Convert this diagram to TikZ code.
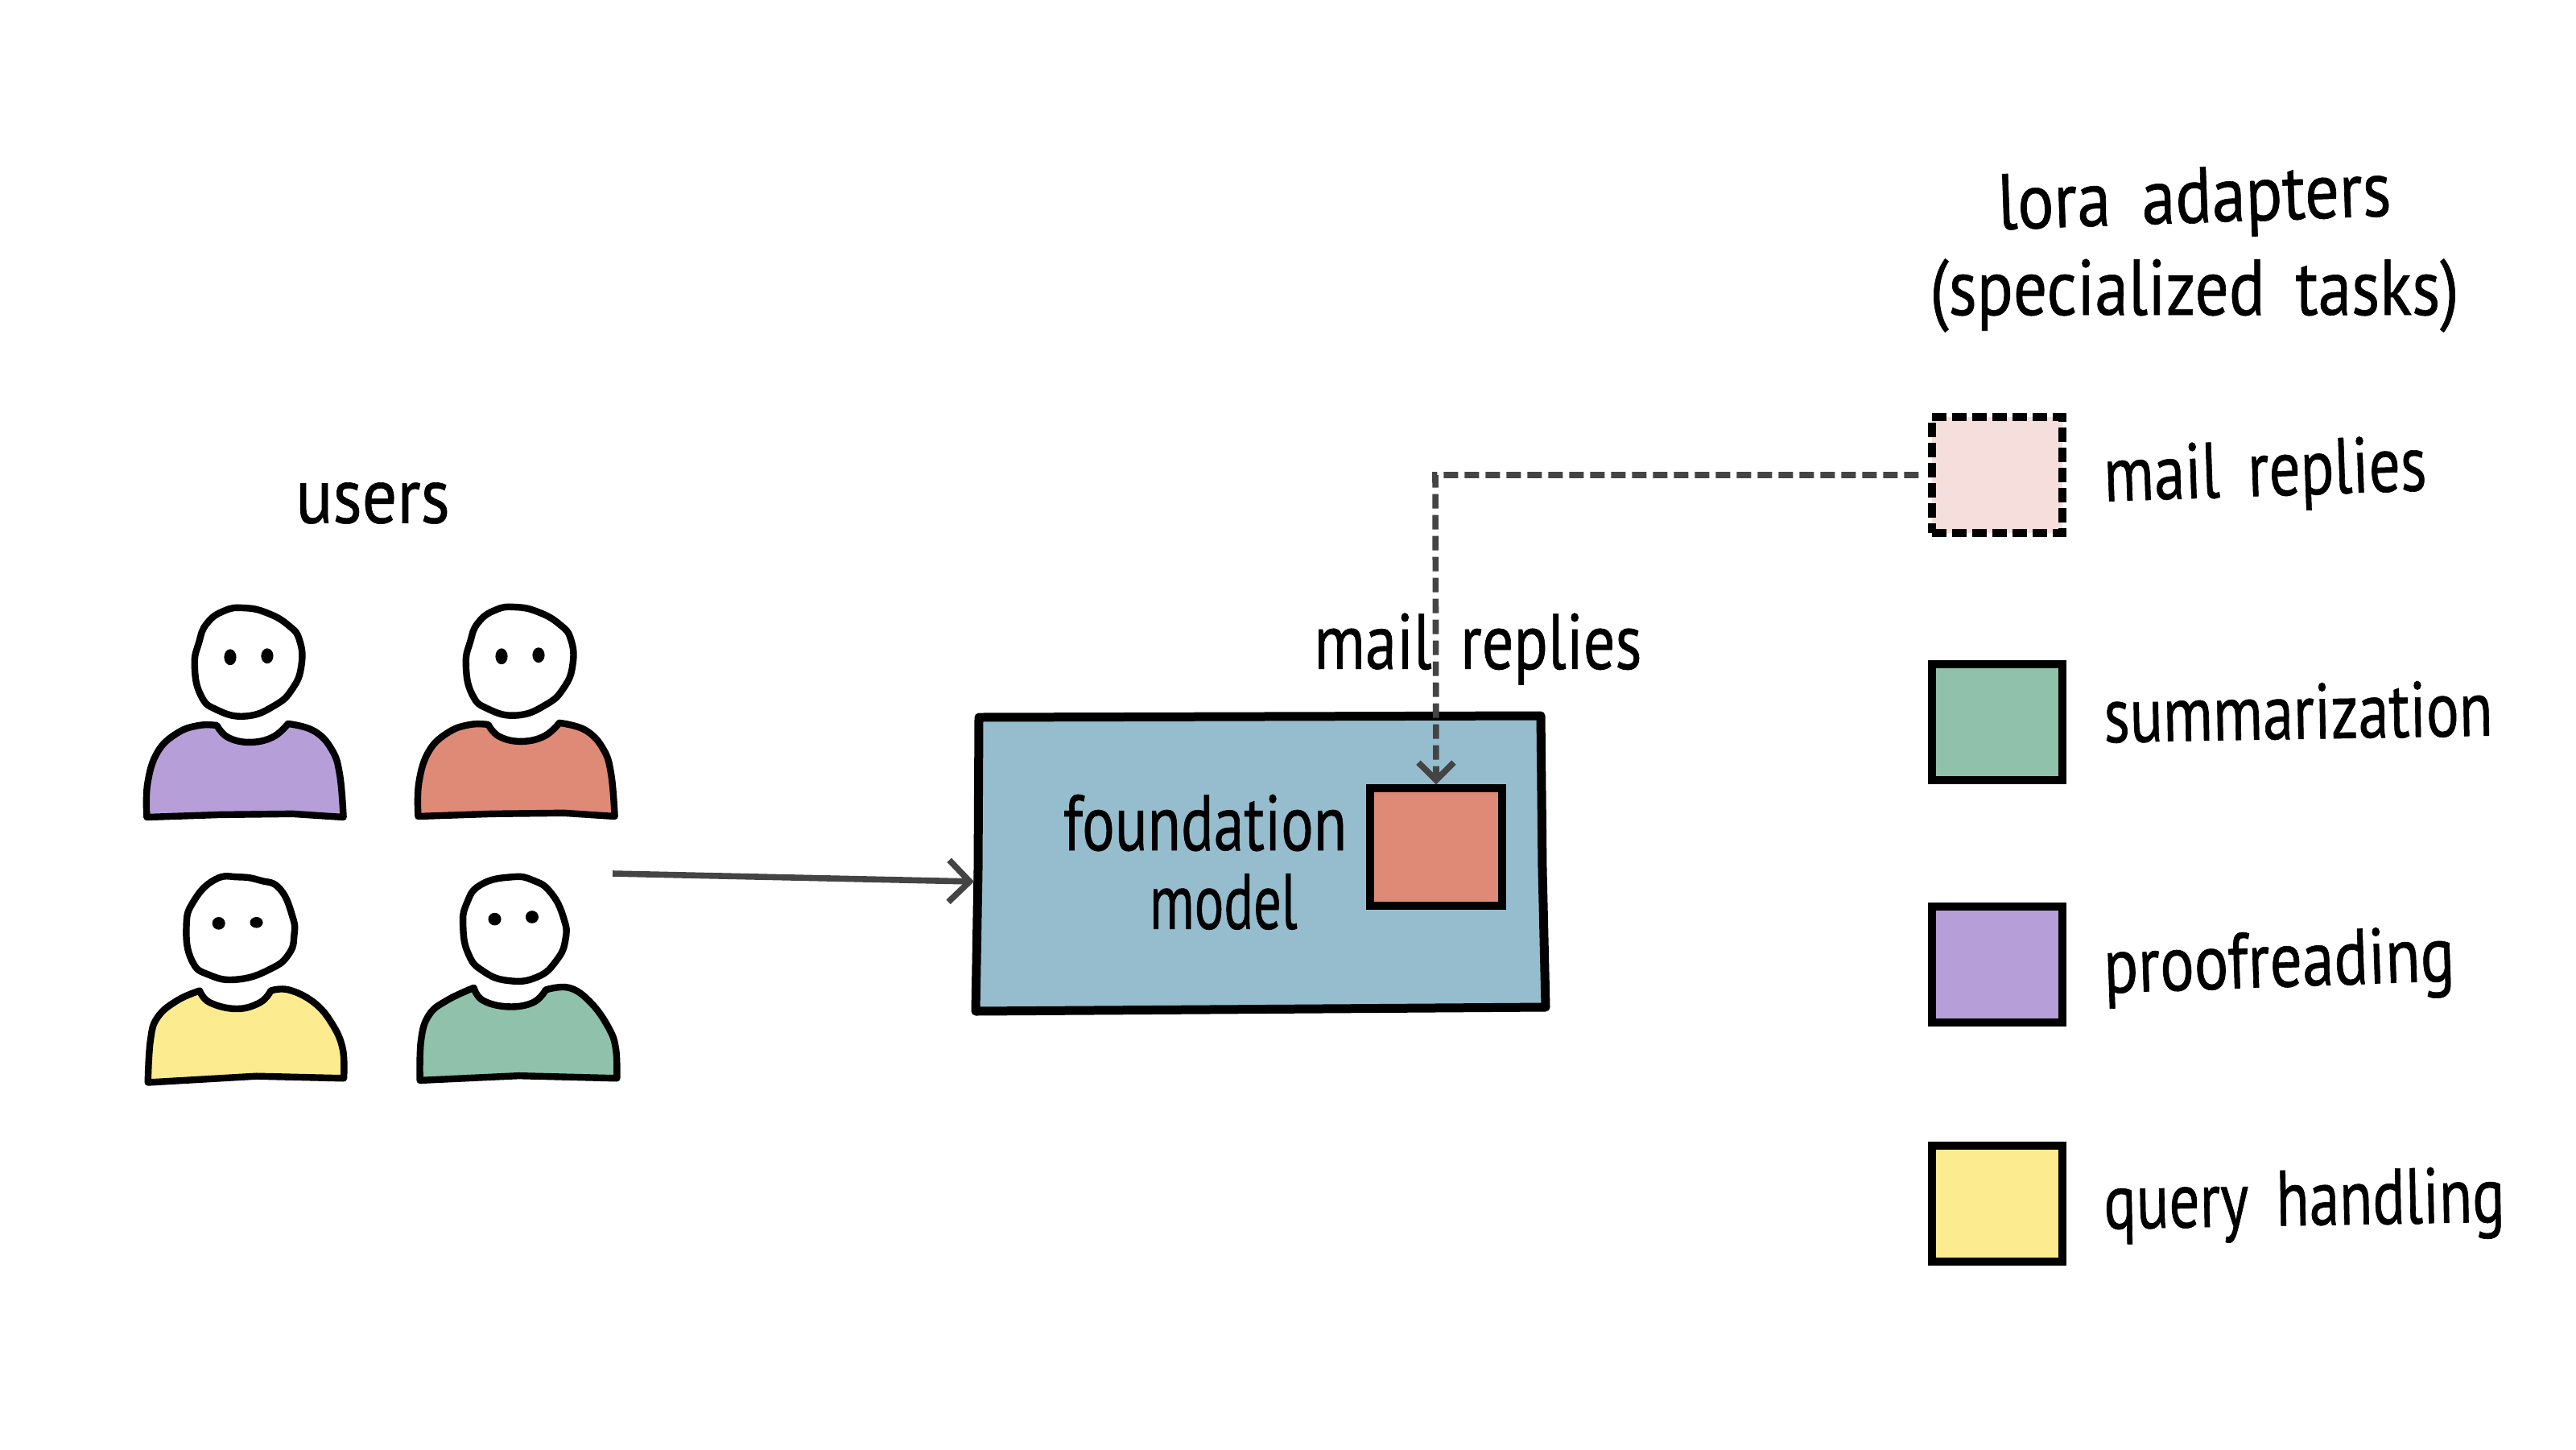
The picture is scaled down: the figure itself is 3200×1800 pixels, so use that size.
\documentclass[tikz,border=0pt]{standalone}
\usepackage{fontspec}
\usepackage{graphicx}
\usetikzlibrary{arrows.meta}
\newfontfamily\handfont[FakeStretch=0.75,WordSpace=1.7,FakeBold=0.6]{PT Sans}
\definecolor{cpurple}{HTML}{B69FD8}
\definecolor{cred}{HTML}{DE8A77}
\definecolor{cyellow}{HTML}{FDEB8F}
\definecolor{cgreen}{HTML}{8FC1AB}
\definecolor{cblue}{HTML}{96BDCD}
\definecolor{cpink}{HTML}{F5DEDB}
\definecolor{cline}{HTML}{444444}
\newcommand{\hs}[2]{\scalebox{#1}[1]{#2}}
\tikzset{
  hand/.style={inner sep=0pt,align=center,text=black,font=\handfont\fontsize{49}{49}\selectfont},
  ink/.style={draw=black,line width=4.2pt,line join=round,line cap=round},
  swatch/.style={rectangle,draw=black,line width=4.6pt,minimum width=81pt,minimum height=72pt,inner sep=0pt},
  conn/.style={draw=cline,line width=3.8pt},
  zoomed/.style={x=0.2232pt,y=-0.2615pt},
}
\newcommand{\headA}{(262,410) (310,380) (365,373) (430,385) (490,415) (520,450) (525,510) (500,565) (450,605) (370,630) (290,615) (245,580) (228,510) (240,455)}
\newcommand{\personA}[1]{%
  \draw[ink,fill=white] plot[smooth cycle,tension=0.8] coordinates {\headA};
  \fill (327,490) ellipse [x radius=17,y radius=19];
  \fill (430,487) ellipse [x radius=17,y radius=18];
  \draw[ink,fill=#1] plot[smooth,tension=0.7] coordinates {(95,870) (97,790) (125,715) (180,670) (240,652) (290,652)}
    -- plot[smooth,tension=0.7] coordinates {(290,652) (320,680) (380,692) (445,680) (488,648)}
    -- plot[smooth,tension=0.7] coordinates {(488,648) (560,665) (610,710) (632,770) (642,870)}
    -- (500,862) -- (300,864) -- cycle;
}
\begin{document}
\begin{tikzpicture}[x=0.5pt,y=-0.5pt]
\useasboundingbox (0,0) rectangle (3200,1800);
\fill[white] (0,0) rectangle (3200,1800);

% users
\node[hand] (users) at (463,625) {\hs{1.17}{users}};
\begin{scope}[shift={(140,560)},zoomed]
  \personA{cpurple}
  \begin{scope}[shift={(755,-2)}]
    \personA{cred}
  \end{scope}
  \draw[ink,fill=white] plot[smooth cycle,tension=0.8] coordinates {(285,1018) (350,1012) (410,1020) (465,1040) (500,1105) (505,1150) (490,1195) (440,1230) (350,1255) (270,1245) (220,1210) (205,1130) (225,1070)};
  \fill (295,1122) ellipse [x radius=18,y radius=15];
  \fill (400,1120) ellipse [x radius=18,y radius=13];
  \draw[ink,fill=cyellow] plot[smooth,tension=0.7] coordinates {(98,1500) (105,1400) (125,1345) (180,1305) (242,1282)}
    -- plot[smooth,tension=0.7] coordinates {(242,1282) (270,1310) (345,1325) (410,1310) (440,1282)}
    -- plot[smooth,tension=0.7] coordinates {(440,1282) (490,1280) (560,1310) (610,1360) (640,1420) (643,1490)}
    -- (400,1485) -- cycle;
  \draw[ink,fill=white] plot[smooth cycle,tension=0.8] coordinates {(1025,1030) (1110,1012) (1170,1020) (1220,1050) (1255,1110) (1260,1160) (1235,1210) (1180,1250) (1100,1258) (1030,1235) (990,1195) (975,1130) (985,1075)};
  \fill (1063,1112) ellipse [x radius=18,y radius=15];
  \fill (1167,1107) ellipse [x radius=18,y radius=15];
  \draw[ink,fill=cgreen] plot[smooth,tension=0.7] coordinates {(855,1495) (858,1400) (880,1340) (930,1305) (1005,1275)}
    -- plot[smooth,tension=0.7] coordinates {(1005,1275) (1030,1305) (1100,1320) (1170,1310) (1205,1280)}
    -- plot[smooth,tension=0.7] coordinates {(1205,1280) (1270,1275) (1330,1310) (1380,1370) (1400,1420) (1403,1490)}
    -- (1130,1484) -- cycle;
\end{scope}

% foundation model
\draw[fill=cblue,draw=black,line width=5.5pt,line join=round] (1216,891) -- (1914,889) -- (1916,1080) -- (1920,1251) -- (1500,1254) -- (1212,1256) -- (1215,1080) -- cycle;
\coordinate (fmwest) at (1210,1095);
\coordinate (userout) at (761,1085);
\node[swatch,fill=cred,minimum width=82pt,minimum height=73pt] (task) at (1784,1052) {};
\node[hand] (foundation) at (1497,1022) {\hs{1.03}{foundation}};
\node[hand] (model) at (1520,1120) {\hs{0.93}{model}};
\node[hand] (mailmid) at (1836,806) {\hs{1.065}{mail replies}};

% legend
\node[swatch,fill=cpink,dash pattern=on 9pt off 3.5pt] (lmail) at (2481,590) {};
\node[swatch,fill=cgreen] (lsum) at (2481,897) {};
\node[swatch,fill=cpurple] (lproof) at (2481,1198) {};
\node[swatch,fill=cyellow] (lquery) at (2481,1495) {};
\node[hand,rotate=2] (ltitle1) at (2726,252) {\hs{1.15}{lora adapters}};
\node[hand] (ltitle2) at (2726,367) {\hs{1.135}{(specialized tasks)}};
\node[hand,anchor=west,rotate=2] (tmail) at (2613,598) {\hs{1.05}{mail replies}};
\node[hand,anchor=west,rotate=1] (tsum) at (2613,888) {\hs{1.04}{summarization}};
\node[hand,anchor=west,rotate=2] (tproof) at (2613,1209) {\hs{1.08}{proofreading}};
\node[hand,anchor=west,rotate=1] (tquery) at (2613,1502) {\hs{1.025}{query handling}};

% connectors
\draw[conn,-{Straight Barb[length=13pt,width=26pt,line width=3.8pt]}] (userout) -- (fmwest);
\coordinate (bend) at (1783,590);
\draw[conn,dash pattern=on 9pt off 4pt,shorten <=6pt,-{Straight Barb[length=11pt,width=22pt,line width=3.8pt]}] (lmail.west) -- (bend) -- (task.north);
\end{tikzpicture}
\end{document}
